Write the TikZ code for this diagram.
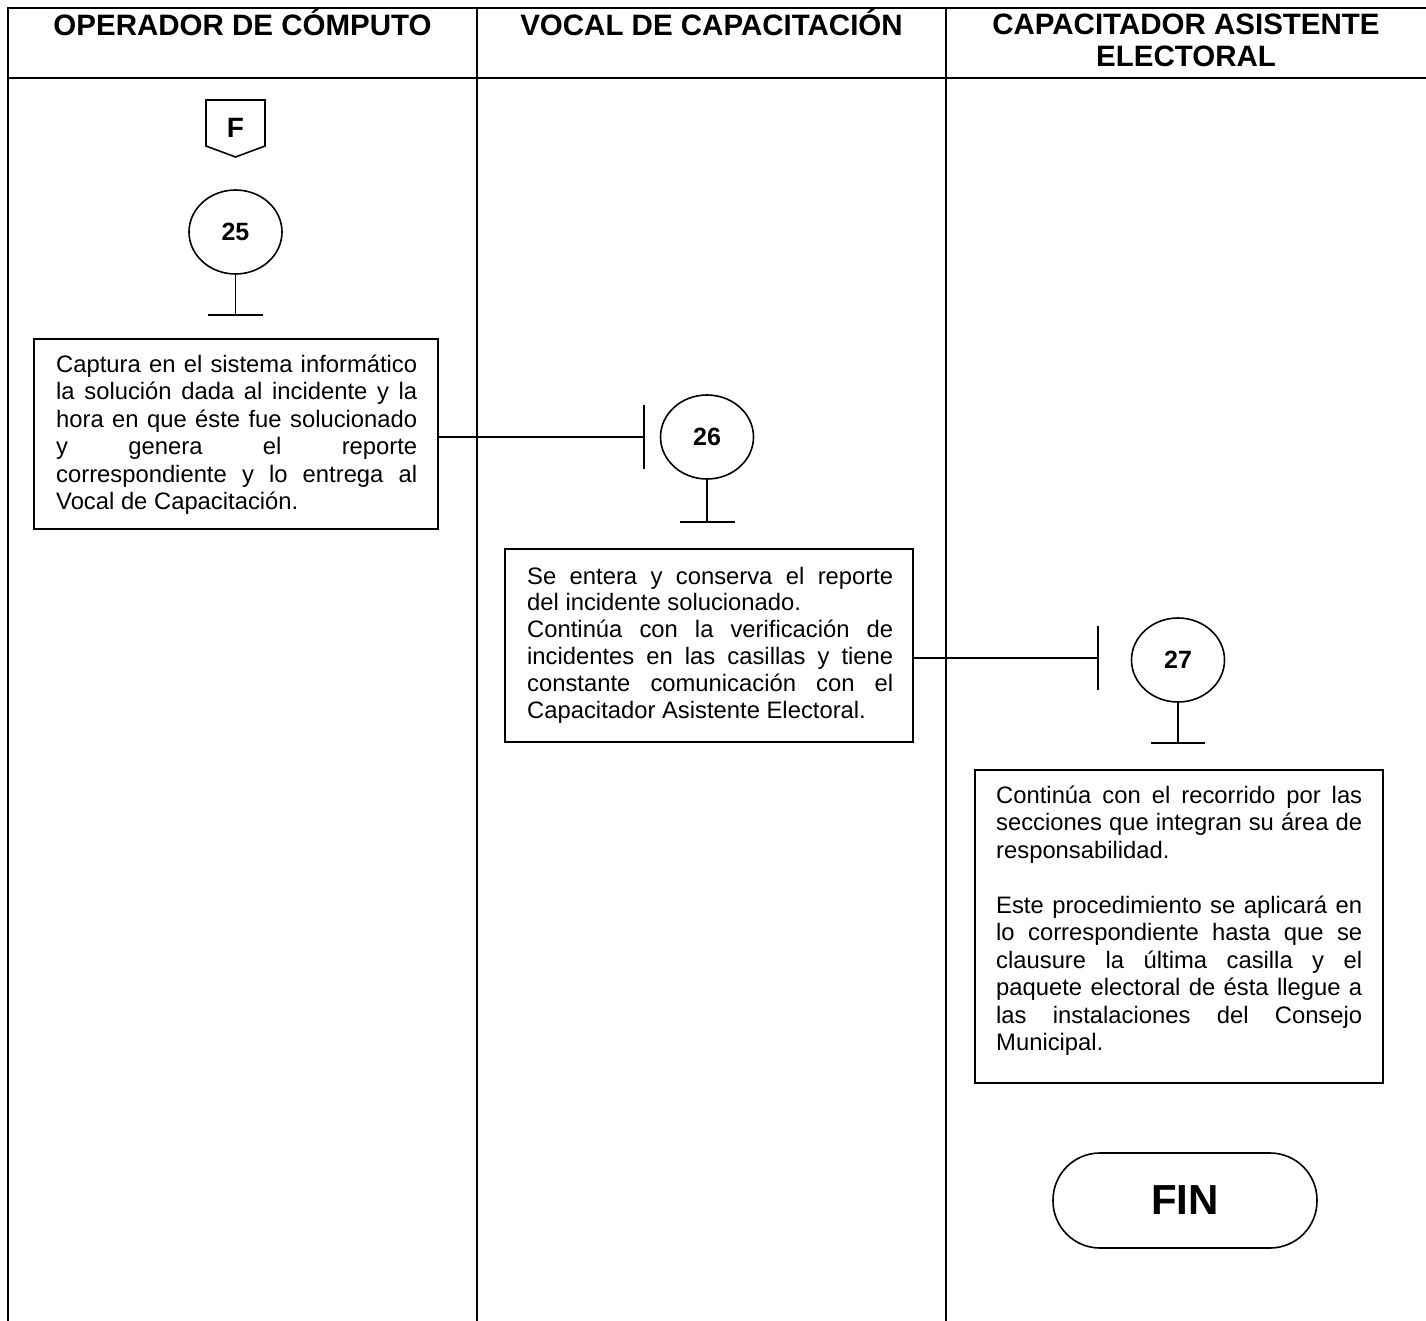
\documentclass[tikz,border=0pt]{standalone}
\usepackage{fontspec}
\setmainfont{Liberation Sans}
\usetikzlibrary{shapes.geometric,calc}
\newcommand\jline[2]{\hbox{\makebox[#1][s]{#2}}}
\newcommand\lline[1]{\hbox{#1}}
\begin{document}
\begin{tikzpicture}[x=1pt,y=-1pt,
  frame/.style={line width=2.2pt},
  shp/.style={line width=1.6pt},
  hdr/.style={font=\bfseries\fontsize{29.5}{32}\selectfont, inner sep=0, anchor=base},
  num/.style={ellipse, draw, line width=1.6pt, minimum width=93pt, minimum height=84pt, inner sep=0, font=\bfseries\fontsize{25}{28}\selectfont},
  boxframe/.style={draw, line width=1.8pt, rectangle, inner sep=0},
  boxtext/.style={anchor=base west, inner sep=0, font=\fontsize{23.8}{27.5}\selectfont},
  fin/.style={draw, line width=1.6pt, rounded corners=47pt, minimum width=264pt, minimum height=95pt, inner sep=0, font=\bfseries\fontsize{42}{46}\selectfont},
]
\useasboundingbox (0,0) rectangle (1426,1321);

% frame
\draw[frame] (1426,8) -- (8,8) -- (8,1321);
\draw[frame] (8,77.7) -- (1426,77.7);
\draw[frame] (477,8) -- (477,1321);
\draw[frame] (946,8) -- (946,1321);

% headers
\node[hdr] (h1) at (242.5,36) {OPERADOR DE CÓMPUTO};
\node[hdr] (h2) at (711.5,36) {VOCAL DE CAPACITACIÓN};
\node[hdr] (h3) at (1186,35) {\vtop{\baselineskip=32pt
  \hbox to 440pt{\hfil CAPACITADOR ASISTENTE\hfil}
  \hbox to 440pt{\hfil ELECTORAL\hfil}}};

% off-page connector F
\draw[shp] (206,100) -- (265,100) -- (265,146) -- (235.5,157) -- (206,146) -- cycle;
\node[inner sep=0, font=\bfseries\fontsize{28}{30}\selectfont] (fl) at (235.5,128) {F};

% 25
\node[num] (c25) at (235.5,232) {25};
\coordinate (s25) at (235.5,315);
\coordinate (s25l) at (208,315);
\coordinate (s25r) at (263,315);
\draw[shp] (c25) -- (s25);
\draw[shp] (s25l) -- (s25r);

% box 1
\node[boxframe, minimum width=404pt, minimum height=190pt] (b1) at (236,434) {};
\node[boxtext] (t1) at (56,372) {\vtop{\baselineskip=27.5pt\lineskiplimit=-50pt\lineskip=0pt
  \jline{361pt}{Captura en el sistema informático}
  \jline{361pt}{la solución dada al incidente y la}
  \jline{361pt}{hora en que éste fue solucionado}
  \jline{361pt}{y genera el reporte}
  \jline{361pt}{correspondiente y lo entrega al}
  \lline{Vocal de Capacitación.}}};

% connector to 26
\coordinate (k26) at (644,437);
\coordinate (k26t) at (644,405);
\coordinate (k26b) at (644,469);
\draw[shp] (b1.east |- k26) -- (k26);
\draw[shp] (k26t) -- (k26b);

% 26
\node[num] (c26) at (707,437) {26};
\coordinate (s26) at (707,522);
\coordinate (s26l) at (680,522);
\coordinate (s26r) at (735,522);
\draw[shp] (c26) -- (s26);
\draw[shp] (s26l) -- (s26r);

% box 2
\node[boxframe, minimum width=408pt, minimum height=193pt] (b2) at (709,645.5) {};
\node[boxtext] (t2) at (527,584) {\vtop{\baselineskip=26.8pt\lineskiplimit=-50pt\lineskip=0pt
  \jline{366pt}{Se entera y conserva el reporte}
  \lline{del incidente solucionado.}
  \jline{366pt}{Continúa con la verificación de}
  \jline{366pt}{incidentes en las casillas y tiene}
  \jline{366pt}{constante comunicación con el}
  \lline{Capacitador Asistente Electoral.}}};

% connector to 27
\coordinate (k27) at (1098,658);
\coordinate (k27t) at (1098,626);
\coordinate (k27b) at (1098,690);
\draw[shp] (b2.east |- k27) -- (k27);
\draw[shp] (k27t) -- (k27b);

% 27
\node[num] (c27) at (1178,660) {27};
\coordinate (s27) at (1178,743);
\coordinate (s27l) at (1151,743);
\coordinate (s27r) at (1205,743);
\draw[shp] (c27) -- (s27);
\draw[shp] (s27l) -- (s27r);

% box 3
\node[boxframe, minimum width=408pt, minimum height=313pt] (b3) at (1179,926.5) {};
\node[boxtext] (t3) at (996,803) {\vtop{\baselineskip=27.5pt\lineskiplimit=-50pt\lineskip=0pt
  \jline{366pt}{Continúa con el recorrido por las}
  \jline{366pt}{secciones que integran su área de}
  \lline{responsabilidad.}
  \hbox{}
  \jline{366pt}{Este procedimiento se aplicará en}
  \jline{366pt}{lo correspondiente hasta que se}
  \jline{366pt}{clausure la última casilla y el}
  \jline{366pt}{paquete electoral de ésta llegue a}
  \jline{366pt}{las instalaciones del Consejo}
  \lline{Municipal.}}};

% FIN
\node[fin] (fin) at (1185,1200.5) {FIN};
\end{tikzpicture}
\end{document}
